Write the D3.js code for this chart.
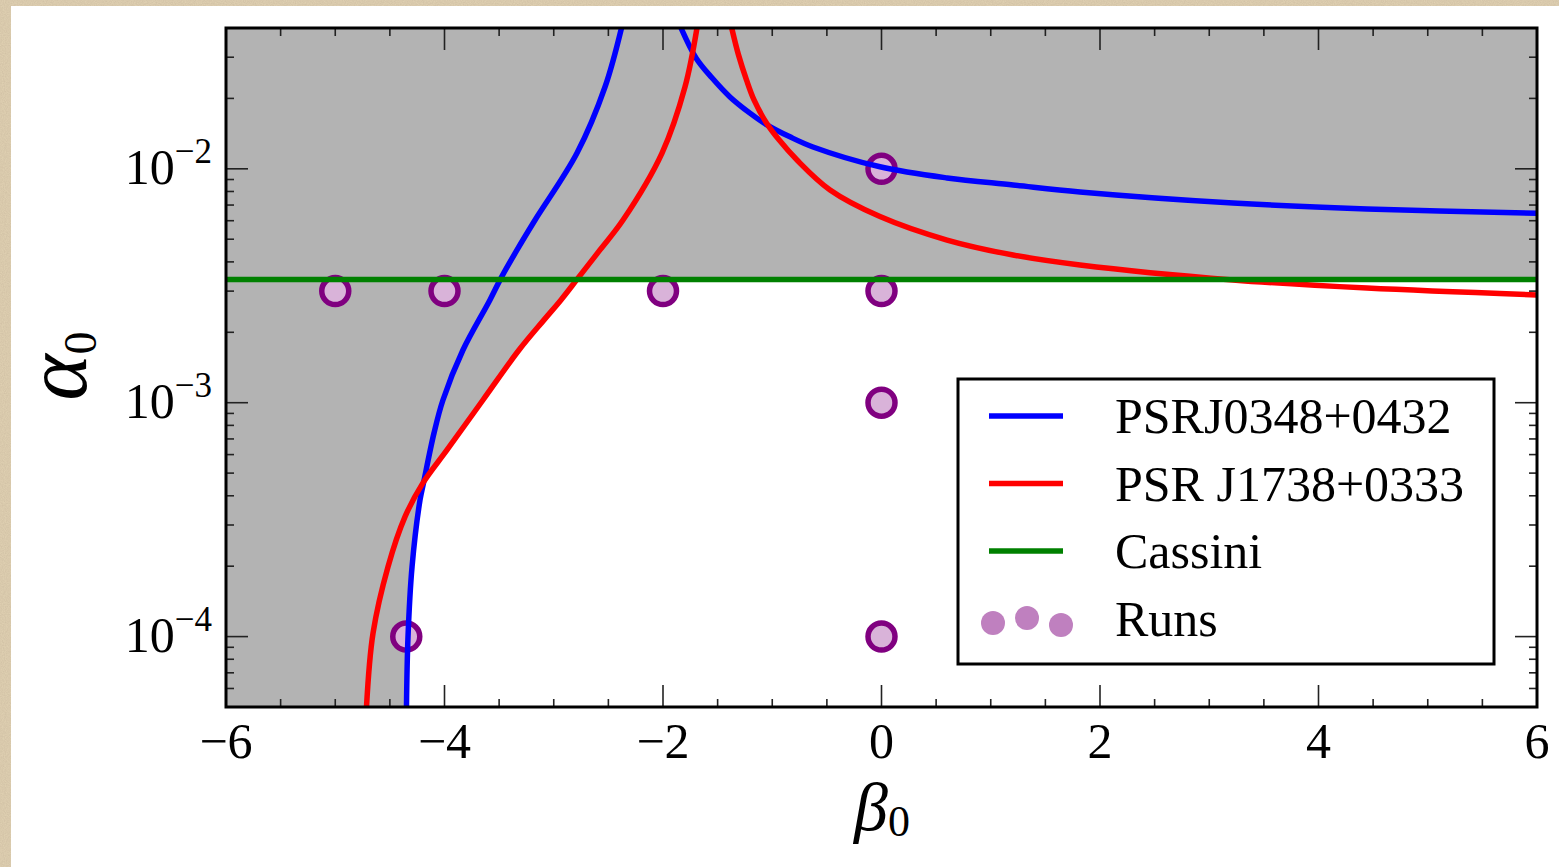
<!DOCTYPE html>
<html>
<head>
<meta charset="utf-8">
<script src="https://cdn.jsdelivr.net/npm/d3@7"></script>
<style>
  body { margin: 0; background: #fff; }
  svg { display: block; }
  text { font-family: "Liberation Serif", "Times New Roman", serif; fill: #000; }
</style>
</head>
<body>
<svg id="chart" width="1559" height="867"></svg>
<script>
// values: [beta0, alpha0]
var psr0348Left = [[-4.348, 5.0e-5], [-4.334, 1.0e-4], [-4.297, 1.99e-4], [-4.224, 3.84e-4], [-4.192, 4.54e-4],
  [-4.096, 7.42e-4], [-4.014, 1.027e-3], [-3.831, 1.68e-3], [-3.584, 2.75e-3], [-3.483, 3.41e-3],
  [-3.336, 4.50e-3], [-3.171, 6.04e-3], [-2.787, 1.168e-2], [-2.531, 2.237e-2], [-2.380, 0.040]];
var psr0348Right = [[-1.835, 0.040], [-1.698, 0.0298], [-1.552, 0.0245], [-1.387, 0.0203], [-1.204, 0.0173],
  [-1.057, 0.0155], [-0.838, 0.0137], [-0.627, 0.0124], [-0.014, 0.0102], [0.600, 0.00914],
  [1.204, 0.00853], [1.817, 0.00796], [3.217, 0.00714], [4.444, 0.00673], [6.0, 0.00645]];
var psr1738Left = [[-4.714, 5.0e-5], [-4.654, 1.036e-4], [-4.517, 1.99e-4], [-4.362, 3.25e-4], [-4.197, 4.54e-4],
  [-3.977, 6.28e-4], [-3.648, 1.027e-3], [-3.318, 1.68e-3], [-3.089, 2.26e-3], [-2.934, 2.75e-3],
  [-2.778, 3.41e-3], [-2.577, 4.50e-3], [-2.366, 6.04e-3], [-2.009, 1.168e-2], [-1.799, 2.237e-2], [-1.689, 0.040]];
var psr1738Right = [[-1.371, 0.040], [-1.309, 0.0307], [-1.236, 0.0240], [-1.167, 0.0197], [-1.053, 0.0157],
  [-0.938, 0.0133], [-0.773, 0.0109], [-0.471, 0.00812], [-0.014, 0.00625], [0.600, 0.00496],
  [1.204, 0.00428], [1.817, 0.00388], [3.217, 0.00335], [4.444, 0.00309], [6.0, 0.00289]];
var cassini = 0.00336;

var runsBeta = [-5, -4, -2, 0, 0, 0, 0, -4.35];
var runsAlpha = [0.003, 0.003, 0.003, 0.003, 0.01, 0.001, 0.0001, 0.0001];

var betaTicks = [-6, -4, -2, 0, 2, 4, 6];
var alphaTickExps = [-4, -3, -2];
var legendNames = ["PSRJ0348+0432", "PSR J1738+0333", "Cassini", "Runs"];

var svg = d3.select("#chart");
var x = d3.scaleLinear().domain([-6, 6]).range([226, 1537]);
var y = d3.scaleLog().domain([5e-5, 0.04]).range([707, 28]);

// paper background
var defs = svg.append("defs");
var f = defs.append("filter").attr("id", "paper");
f.append("feTurbulence").attr("type", "fractalNoise").attr("baseFrequency", 0.9).attr("numOctaves", 3);
f.append("feColorMatrix").attr("type", "matrix")
  .attr("values", "0 0 0 0 0.55  0 0 0 0 0.45  0 0 0 0 0.32  0 0 0 0.6 0");
defs.append("clipPath").attr("id", "plotclip").append("rect")
  .attr("x", 226).attr("y", 28).attr("width", 1311).attr("height", 679);

svg.append("rect").attr("width", 1559).attr("height", 867).attr("fill", "#e2d3b4");
svg.append("rect").attr("width", 1559).attr("height", 867).attr("filter", "url(#paper)");
svg.append("rect").attr("x", 11).attr("y", 6).attr("width", 1548).attr("height", 861).attr("fill", "#fff");

var plot = svg.append("g").attr("clip-path", "url(#plotclip)");
plot.append("rect").attr("x", 226).attr("y", 28).attr("width", 1311).attr("height", 679).attr("fill", "#b3b3b3");

// allowed (white) region: below Cassini and right of both left branches
function xOnBranch(branch, a) {
  var la = Math.log10(a);
  for (var i = 0; i < branch.length - 1; i++) {
    var a0 = Math.log10(branch[i][1]), a1 = Math.log10(branch[i + 1][1]);
    if (la >= a0 && la <= a1) {
      var t = (la - a0) / (a1 - a0);
      return branch[i][0] + t * (branch[i + 1][0] - branch[i][0]);
    }
  }
  return branch[branch.length - 1][0];
}
var levels = psr0348Left.concat(psr1738Left).map(function (d) { return d[1]; })
  .filter(function (a) { return a < cassini; }).concat([cassini]);
levels = Array.from(new Set(levels)).sort(function (a, b) { return b - a; });
var edge = levels.map(function (a) {
  return [Math.max(xOnBranch(psr0348Left, a), xOnBranch(psr1738Left, a)), a];
});
var allowed = [[6, y.domain()[0]], [6, cassini]].concat(edge);
var poly = d3.line().x(function (d) { return x(d[0]); }).y(function (d) { return y(d[1]); });
plot.append("path").datum(allowed).attr("d", poly).attr("fill", "#fff");

// runs
plot.append("g").selectAll("circle")
  .data(runsBeta.map(function (b, i) { return [b, runsAlpha[i]]; }))
  .enter()
  .append("circle")
  .attr("cx", function (d) { return x(d[0]); })
  .attr("cy", function (d) { return y(d[1]); })
  .attr("r", 13.5)
  .attr("fill", "#d9b3d9")
  .attr("stroke", "#800080")
  .attr("stroke-width", 5.5);

var curve = d3.line().curve(d3.curveCatmullRom)
  .x(function (d) { return x(d[0]); }).y(function (d) { return y(d[1]); });
[[psr0348Left, "#0000ff"], [psr0348Right, "#0000ff"], [psr1738Left, "#ff0000"], [psr1738Right, "#ff0000"]]
  .forEach(function (s) {
    plot.append("path").datum(s[0]).attr("d", curve)
      .attr("fill", "none").attr("stroke", s[1]).attr("stroke-width", 5.5);
  });
plot.append("line")
  .attr("x1", x(-6)).attr("x2", x(6)).attr("y1", y(cassini)).attr("y2", y(cassini))
  .attr("stroke", "#008000").attr("stroke-width", 5.5);

// ticks on all sides, pointing in
var ticks = svg.append("g").attr("stroke", "#222").attr("stroke-width", 1.6);
var xMinor = d3.range(-6, 6.001, 0.5).filter(function (v) { return betaTicks.indexOf(v) < 0; });
function xTick(v, len) {
  ticks.append("line").attr("x1", x(v)).attr("x2", x(v)).attr("y1", 707).attr("y2", 707 - len);
  ticks.append("line").attr("x1", x(v)).attr("x2", x(v)).attr("y1", 28).attr("y2", 28 + len);
}
betaTicks.forEach(function (v) { xTick(v, 22); });
xMinor.forEach(function (v) { xTick(v, 8); });
var yMinor = [];
[-5, -4, -3, -2].forEach(function (e) {
  for (var k = 2; k <= 9; k++) {
    var v = k * Math.pow(10, e);
    if (v >= 5e-5 && v <= 0.04) yMinor.push(v);
  }
});
function yTick(v, len) {
  ticks.append("line").attr("x1", 226).attr("x2", 226 + len).attr("y1", y(v)).attr("y2", y(v));
  ticks.append("line").attr("x1", 1537).attr("x2", 1537 - len).attr("y1", y(v)).attr("y2", y(v));
}
alphaTickExps.forEach(function (e) { yTick(Math.pow(10, e), 22); });
yMinor.forEach(function (v) { yTick(v, 8); });

svg.append("rect").attr("x", 226).attr("y", 28).attr("width", 1311).attr("height", 679)
  .attr("fill", "none").attr("stroke", "#000").attr("stroke-width", 3);

// tick labels
svg.append("g").selectAll("text").data(betaTicks).enter().append("text")
  .attr("x", function (d) { return x(d); }).attr("y", 758)
  .attr("text-anchor", "middle").attr("font-size", 50)
  .text(function (d) { return d < 0 ? "\u2212" + Math.abs(d) : d; });
var yl = svg.append("g").selectAll("text").data(alphaTickExps).enter().append("text")
  .attr("x", 212).attr("y", function (d) { return y(Math.pow(10, d)) + 15; })
  .attr("text-anchor", "end").attr("font-size", 50);
yl.append("tspan").text("10");
yl.append("tspan").attr("dy", -21).attr("font-size", 35)
  .text(function (d) { return "\u2212" + Math.abs(d); });

// axis labels
var al = svg.append("text").attr("transform", "translate(86,366) rotate(-90)")
  .attr("text-anchor", "middle");
al.append("tspan").attr("font-style", "italic").attr("font-size", 88).text("\u03b1");
al.append("tspan").attr("font-size", 46).attr("dy", 10).text("0");
var bl = svg.append("text").attr("x", 882).attr("y", 830).attr("text-anchor", "middle");
bl.append("tspan").attr("font-style", "italic").attr("font-size", 68).text("\u03b2");
bl.append("tspan").attr("font-size", 44).attr("dy", 6).text("0");

// legend
var lg = svg.append("g");
lg.append("rect").attr("x", 958).attr("y", 379).attr("width", 536).attr("height", 285)
  .attr("fill", "#fff").attr("stroke", "#000").attr("stroke-width", 3);
var lineColors = ["#0000ff", "#ff0000", "#008000"];
lineColors.forEach(function (c, i) {
  lg.append("line").attr("x1", 989).attr("x2", 1063)
    .attr("y1", 416 + i * 67.5).attr("y2", 416 + i * 67.5)
    .attr("stroke", c).attr("stroke-width", 5.5);
});
[[993, 623], [1027, 618], [1061, 625]].forEach(function (p) {
  lg.append("circle").attr("cx", p[0]).attr("cy", p[1]).attr("r", 12).attr("fill", "#bf80bf");
});
lg.selectAll("text.leg").data(legendNames).enter().append("text")
  .attr("x", 1115).attr("y", function (d, i) { return 433 + i * 67.5; })
  .attr("font-size", 50).text(function (d) { return d; });
</script>
</body>
</html>
